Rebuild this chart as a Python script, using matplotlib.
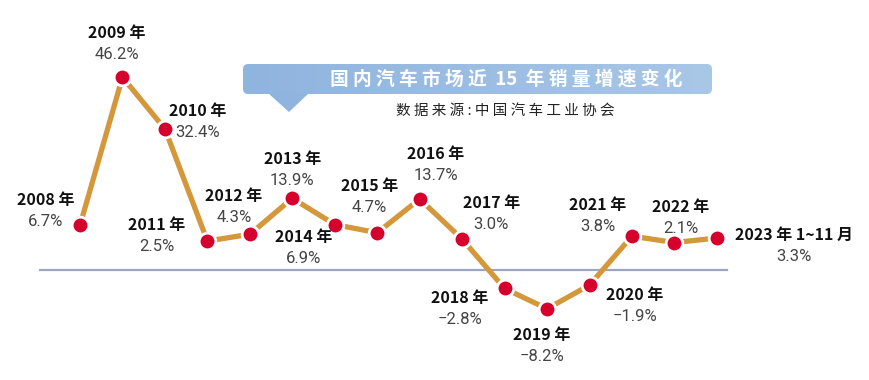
import numpy as np
import matplotlib
matplotlib.use("Agg")
import matplotlib.pyplot as plt
from matplotlib.patches import FancyBboxPatch, Polygon
from matplotlib.colors import LinearSegmentedColormap

plt.rcParams['font.family'] = ['Noto Sans CJK SC', 'DejaVu Sans']

# ---- data ----
years = list(range(2008, 2024))
growth = [6.7, 46.2, 32.4, 2.5, 4.3, 13.9, 6.9, 4.7, 13.7, 3.0, -2.8, -8.2, -1.9, 3.8, 2.1, 3.3]
year_labels = ["2008 年", "2009 年", "2010 年", "2011 年", "2012 年", "2013 年", "2014 年",
               "2015 年", "2016 年", "2017 年", "2018 年", "2019 年", "2020 年", "2021 年",
               "2022 年", "2023 年 1~11 月"]
value_labels = ["6.7%", "46.2%", "32.4%", "2.5%", "4.3%", "13.9%", "6.9%", "4.7%", "13.7%",
                "3.0%", "\u22122.8%", "\u22128.2%", "\u22121.9%", "3.8%", "2.1%", "3.3%"]
title = "国内汽车市场近 15 年销量增速变化"
source = "数据来源:中国汽车工业协会"

# label offsets (pixels) for the year text relative to each point
label_dx = [-34, -6, 33, -51, -16, 0, -31, -8, 16, 29, -45, -5, 45, -34, 6, 77]
label_dy = [25, 44, 18, 16, 38, 39, -12, 47, 45, 36, -10, -26, -10, 31, 36, 3]

W, H = 869, 380


def spaced(s, sep):
    # letter-spaced rendering of a CJK headline
    out = []
    for i, ch in enumerate(s):
        out.append(ch)
        if i < len(s) - 1 and not (ch.isdigit() and s[i + 1].isdigit()):
            out.append(sep)
    return ''.join(out).replace(sep + ' ' + sep, sep + sep)


# schematic (non-linear) vertical scale used by the original graphic
def fwd(v):
    v = np.asarray(v, dtype=float)
    pos = 3.75 * v + 19.6 * (1 - np.exp(-np.clip(v, 0, None) / 0.3))
    neg = 3.75 * v - 8.0 * (1 - np.exp(np.clip(v, None, 0) / 0.3))
    return np.where(v >= 0, pos, neg)


_grid = np.linspace(-300, 300, 60001)
_fgrid = fwd(_grid)


def inv(y):
    return np.interp(y, _fgrid, _grid)


fig = plt.figure(figsize=(W / 100, H / 100), dpi=100)
ax = fig.add_axes([0, 0, 1, 1])
ax.set_yscale('function', functions=(fwd, inv))

x0_px, step_px = 80, 42.46
base_px = 270  # from top
ax.axis('off')

# baseline
ax.axhline(0, xmin=40 / W, xmax=727 / W, color='#9BA6C2', lw=1.6, zorder=1)

# line + markers
ax.plot(years, growth, color='#D4973A', lw=3.8, zorder=2, solid_capstyle='butt')
ax.plot(years, growth, ls='none', marker='o', ms=12, mfc='#D6002C', mec='white', mew=2.0, zorder=3)

for x, v, yl, vl, dx, dy in zip(years, growth, year_labels, value_labels, label_dx, label_dy):
    ax.annotate(yl, (x, v), xytext=(dx, dy), textcoords='offset pixels', ha='center', va='center',
                fontsize=11.5, fontweight='heavy', color='#111111', zorder=4)
    ax.annotate(vl, (x, v), xytext=(dx, dy - 21.5), textcoords='offset pixels', ha='center', va='center',
                fontsize=12, fontweight='normal', color='#444444', zorder=4,
                family=['Roboto', 'DejaVu Sans'])


def fx(px):
    return px / W


def fy(py):
    return 1 - py / H


# title box with a soft horizontal gradient
box = FancyBboxPatch((fx(243), fy(94)), fx(712) - fx(243), fy(64) - fy(94),
                     boxstyle="round,pad=0,rounding_size=0.006", transform=ax.transAxes,
                     facecolor='none', edgecolor='none', zorder=5, mutation_aspect=W / H)
ax.add_patch(box)
cmap = LinearSegmentedColormap.from_list('boxgrad', ['#8FB4DE', '#A9C7E7'])
grad = ax.imshow(np.linspace(0, 1, 256).reshape(1, -1), cmap=cmap, aspect='auto',
                 extent=(fx(243), fx(712), fy(94), fy(64)), transform=ax.transAxes, zorder=5)
grad.set_clip_path(box)
tri = Polygon([(fx(268), fy(93)), (fx(309), fy(93)), (fx(289), fy(112))], closed=True,
              transform=ax.transAxes, facecolor='#8FB4DE', edgecolor='none', zorder=5)
ax.add_patch(tri)
ax.text(fx(506), fy(79), spaced(title, ' '), transform=ax.transAxes, ha='center', va='center',
        fontsize=13.5, fontweight='heavy', color='white', zorder=6)
ax.text(fx(505), fy(111), spaced(source, ' '), transform=ax.transAxes, ha='center', va='center',
        fontsize=10.5, color='#222222', zorder=6)

ax.set_xlim(2008 - x0_px / step_px, 2008 + (W - x0_px) / step_px)
ax.set_ylim(float(inv(-(H - base_px))), float(inv(base_px)))

fig.savefig('out.png', dpi=100, facecolor='white')
